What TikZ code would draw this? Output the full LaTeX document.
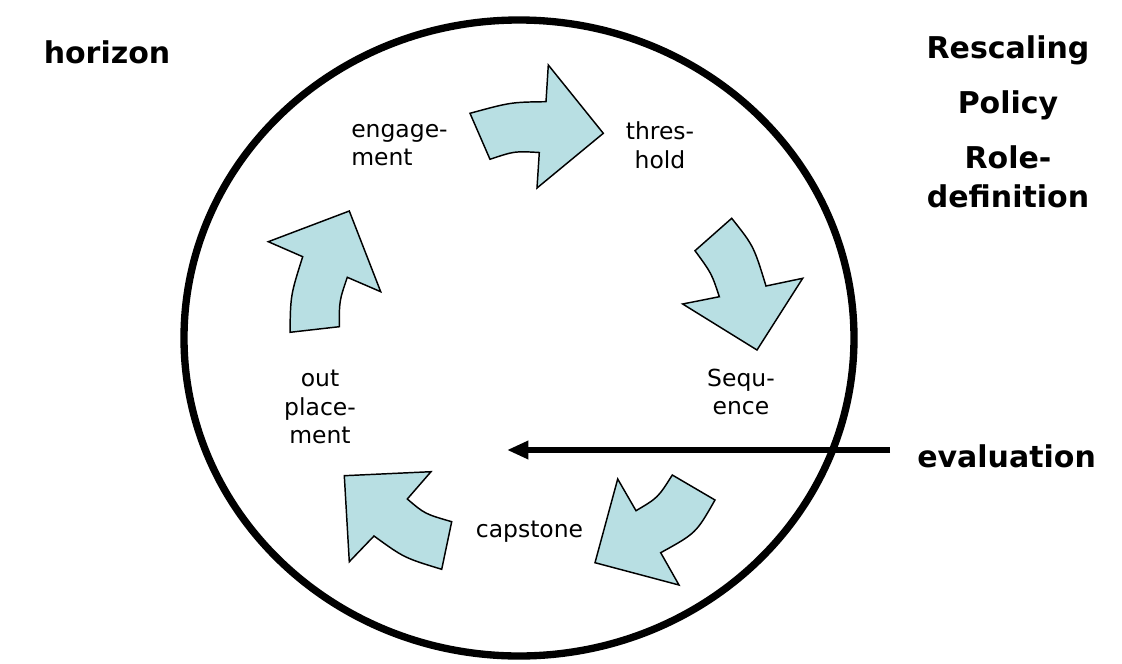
\documentclass[tikz,border=0pt]{standalone}
\usepackage{fontspec}
\setmainfont{DejaVu Sans}
\usepackage{xcolor}
\definecolor{cycfill}{RGB}{184,223,227}
\usetikzlibrary{positioning,arrows.meta}

\begin{document}
\begin{tikzpicture}[
  x=0.75pt,y=-0.75pt,
  >={Triangle[length=16pt,width=13pt]},
  cyc/.style={draw=black,line width=1.1pt,fill=cycfill,line join=miter},
  lbl/.style={font=\fontsize{17.6}{21.4}\selectfont,align=center,inner sep=0pt},
  hd/.style={font=\fontsize{22.5}{29}\selectfont\bfseries,align=center,inner sep=0pt},
  ring/.style={draw=black,line width=5.5pt},
  ar/.style={->,line width=4.5pt},
  node distance=19pt,
]
\useasboundingbox (0,0) rectangle (1122,664);

% outer ring
\draw[ring] (519,338) ellipse [x radius=251.25pt,y radius=238.5pt];

% curved block arrows of the cycle
\draw[cyc] (470,113.3) .. controls (510.7,102.2) .. (546,101.7) -- (548.3,65) -- (603.3,133.3)
  -- (537,188) -- (539.3,152.5) .. controls (514.45,151.1) .. (490,159.3) -- cycle;
\draw[cyc] (731.7,218.3) .. controls (753.7,245.95) .. (766,286) -- (802.7,278.3) -- (757,350)
  -- (682.7,304) -- (719.3,296.7) .. controls (711.6,273.4) .. (695,250.7) -- cycle;
\draw[cyc] (672.3,475) -- (715,500) .. controls (696.05,533.2) .. (660.7,552.7) -- (679,585)
  -- (595,562.7) -- (617.7,479) -- (636,510.7) .. controls (657.95,497.7) .. (672.3,475) -- cycle;
\draw[cyc] (344.3,475.7) -- (431,471.7) -- (407.3,499) .. controls (424.8,513.9) .. (451.7,521.7)
  -- (441.7,569.3) .. controls (404.05,557.8) .. (374,536) -- (349.3,561.7) -- cycle;
\draw[cyc] (290,332.3) .. controls (290.55,295.2) .. (302.7,256.7) -- (268.3,241.7) -- (349.3,211)
  -- (380.7,291.7) -- (347.3,277.3) .. controls (339.3,300.7) .. (339.3,326.7) -- cycle;

% stage labels
\node[lbl,align=left,anchor=west] (engage) at (351,145) {engage-\\ment};
\node[lbl] (thres) at (660,145) {thres-\\hold};
\node[lbl] (sequ) at (741,392) {Sequ-\\ence};
\node[lbl] (capst) at (529.5,532) {capstone};
\node[lbl] (outpl) at (320,407) {out\\place-\\ment};

% outside headings
\node[hd] (horizon) at (107,52) {horizon};
\node[hd] (rescal) at (1008,50) {Rescaling};
\node[hd,below=of rescal] (policy) {Policy};
\node[hd,below=of policy] (role) {Role-\\definition};
\node[hd,anchor=west] (eval) at (917,456) {evaluation};

\coordinate (hub) at (507,450);
\coordinate (evtail) at (890,450);
\draw[ar] (evtail) -- (hub);
\end{tikzpicture}
\end{document}
